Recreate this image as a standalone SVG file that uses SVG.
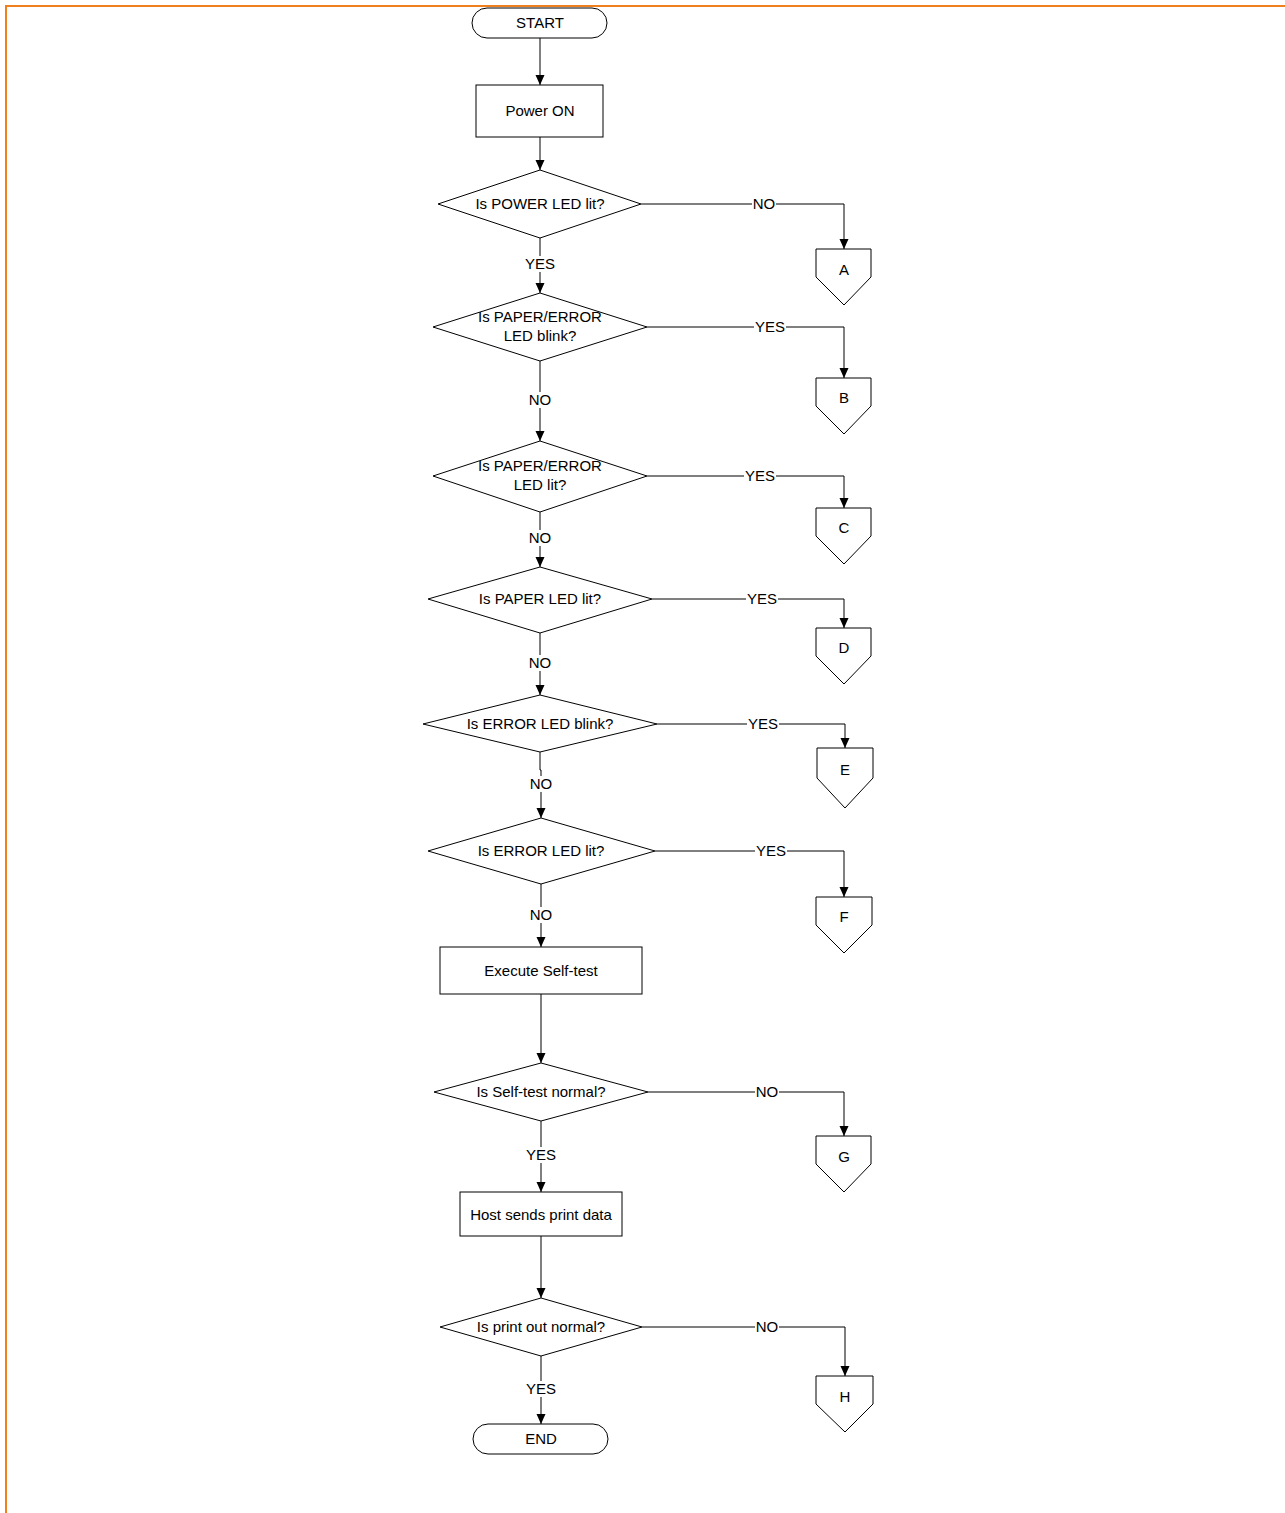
<svg xmlns="http://www.w3.org/2000/svg" width="1285" height="1513" viewBox="0 0 1285 1513">
<style>
.s{fill:#fff;stroke:#000;stroke-width:1}
.t{font-family:"Liberation Sans",Arial,sans-serif;font-size:15px;fill:#000;text-anchor:middle;dominant-baseline:central}
.c{fill:none;stroke:#000;stroke-width:1}
.bg{fill:#fff}
</style>
<defs>
<marker id="ah" markerWidth="10" markerHeight="10" refX="10" refY="5" orient="auto" markerUnits="userSpaceOnUse">
<path d="M0,0.5 L10,5 L0,9.5 Z" fill="#000"/>
</marker>
<rect id="bno" x="-12" y="-8" width="24" height="16"/>
<rect id="byes" x="-16" y="-8" width="32" height="16"/>
</defs>
<rect x="0" y="0" width="1285" height="1513" fill="#fff"/>
<path d="M6,1513 V6 H1285" fill="none" stroke="#F07F1E" stroke-width="2"/>
<g id="connectors">
<path class="c" d="M540,38 V85" marker-end="url(#ah)"/>
<path class="c" d="M540,137 V170" marker-end="url(#ah)"/>
<path class="c" d="M641,204 H844 V249" marker-end="url(#ah)"/>
<path class="c" d="M540,238 V293" marker-end="url(#ah)"/>
<path class="c" d="M647,327 H844 V378" marker-end="url(#ah)"/>
<path class="c" d="M540,361 V441" marker-end="url(#ah)"/>
<path class="c" d="M647,476 H844 V508" marker-end="url(#ah)"/>
<path class="c" d="M540,512 V567" marker-end="url(#ah)"/>
<path class="c" d="M652,599 H844 V628" marker-end="url(#ah)"/>
<path class="c" d="M540,633 V695" marker-end="url(#ah)"/>
<path class="c" d="M657,724 H845 V748" marker-end="url(#ah)"/>
<path class="c" d="M540,752 V770 H541 V818" marker-end="url(#ah)"/>
<path class="c" d="M655,851 H844 V897" marker-end="url(#ah)"/>
<path class="c" d="M541,884 V947" marker-end="url(#ah)"/>
<path class="c" d="M541,994 V1063" marker-end="url(#ah)"/>
<path class="c" d="M648,1092 H844 V1136" marker-end="url(#ah)"/>
<path class="c" d="M541,1121 V1192" marker-end="url(#ah)"/>
<path class="c" d="M541,1236 V1298" marker-end="url(#ah)"/>
<path class="c" d="M642,1327 H845 V1376" marker-end="url(#ah)"/>
<path class="c" d="M541,1356 V1424" marker-end="url(#ah)"/>
<g class="bg">
<use href="#bno" x="764" y="204"/>
<use href="#byes" x="540" y="264"/>
<use href="#byes" x="770" y="327"/>
<use href="#bno" x="540" y="400"/>
<use href="#byes" x="760" y="476"/>
<use href="#bno" x="540" y="538"/>
<use href="#byes" x="762" y="599"/>
<use href="#bno" x="540" y="663"/>
<use href="#byes" x="763" y="724"/>
<use href="#bno" x="541" y="784"/>
<use href="#byes" x="771" y="851"/>
<use href="#bno" x="541" y="915"/>
<use href="#bno" x="767" y="1092"/>
<use href="#byes" x="541" y="1155"/>
<use href="#bno" x="767" y="1327"/>
<use href="#byes" x="541" y="1389"/>
</g>
<text class="t" x="764" y="203">NO</text>
<text class="t" x="540" y="263">YES</text>
<text class="t" x="770" y="326">YES</text>
<text class="t" x="540" y="399">NO</text>
<text class="t" x="760" y="475">YES</text>
<text class="t" x="540" y="537">NO</text>
<text class="t" x="762" y="598">YES</text>
<text class="t" x="540" y="662">NO</text>
<text class="t" x="763" y="723">YES</text>
<text class="t" x="541" y="783">NO</text>
<text class="t" x="771" y="850">YES</text>
<text class="t" x="541" y="914">NO</text>
<text class="t" x="767" y="1091">NO</text>
<text class="t" x="541" y="1154">YES</text>
<text class="t" x="767" y="1326">NO</text>
<text class="t" x="541" y="1388">YES</text>
</g>
<g id="start"><rect class="s" x="472" y="8" width="135" height="30" rx="15"/><text class="t" x="540" y="22">START</text></g>
<g id="power-on"><rect class="s" x="476" y="85" width="127" height="52"/><text class="t" x="540" y="110">Power ON</text></g>
<g id="d-power-led"><polygon class="s" points="540,170 641,204 540,238 438,204"/><text class="t" x="540" y="203">Is POWER LED lit?</text></g>
<g id="d-paper-error-blink"><polygon class="s" points="540,293 647,327 540,361 433,327"/><text class="t" x="540" y="316">Is PAPER/ERROR</text><text class="t" x="540" y="335">LED blink?</text></g>
<g id="d-paper-error-lit"><polygon class="s" points="540,441 647,476 540,512 433,476"/><text class="t" x="540" y="465">Is PAPER/ERROR</text><text class="t" x="540" y="484">LED lit?</text></g>
<g id="d-paper-lit"><polygon class="s" points="540,567 652,599 540,633 428,599"/><text class="t" x="540" y="598">Is PAPER LED lit?</text></g>
<g id="d-error-blink"><polygon class="s" points="540,695 657,724 540,752 423,724"/><text class="t" x="540" y="723">Is ERROR LED blink?</text></g>
<g id="d-error-lit"><polygon class="s" points="541,818 655,851 541,884 428,851"/><text class="t" x="541" y="850">Is ERROR LED lit?</text></g>
<g id="self-test"><rect class="s" x="440" y="947" width="202" height="47"/><text class="t" x="541" y="970">Execute Self-test</text></g>
<g id="d-self-test"><polygon class="s" points="541,1063 648,1092 541,1121 434,1092"/><text class="t" x="541" y="1091">Is Self-test normal?</text></g>
<g id="host-sends"><rect class="s" x="460" y="1192" width="162" height="44"/><text class="t" x="541" y="1214">Host sends print data</text></g>
<g id="d-print-out"><polygon class="s" points="541,1298 642,1327 541,1356 440,1327"/><text class="t" x="541" y="1326">Is print out normal?</text></g>
<g id="end"><rect class="s" x="473" y="1424" width="135" height="30" rx="15"/><text class="t" x="541" y="1438">END</text></g>
<g id="conn-a"><polygon class="s" points="816,249 871,249 871,277 844,305 816,277"/><text class="t" x="844" y="269">A</text></g>
<g id="conn-b"><polygon class="s" points="816,378 871,378 871,406 844,434 816,406"/><text class="t" x="844" y="397">B</text></g>
<g id="conn-c"><polygon class="s" points="816,508 871,508 871,536 844,564 816,536"/><text class="t" x="844" y="527">C</text></g>
<g id="conn-d"><polygon class="s" points="816,628 871,628 871,656 844,684 816,656"/><text class="t" x="844" y="647">D</text></g>
<g id="conn-e"><polygon class="s" points="817,748 873,748 873,778 845,808 817,778"/><text class="t" x="845" y="769">E</text></g>
<g id="conn-f"><polygon class="s" points="816,897 872,897 872,925 844,953 816,925"/><text class="t" x="844" y="916">F</text></g>
<g id="conn-g"><polygon class="s" points="816,1136 871,1136 871,1164 844,1192 816,1164"/><text class="t" x="844" y="1156">G</text></g>
<g id="conn-h"><polygon class="s" points="816,1376 873,1376 873,1404 845,1432 816,1404"/><text class="t" x="845" y="1396">H</text></g>
</svg>
